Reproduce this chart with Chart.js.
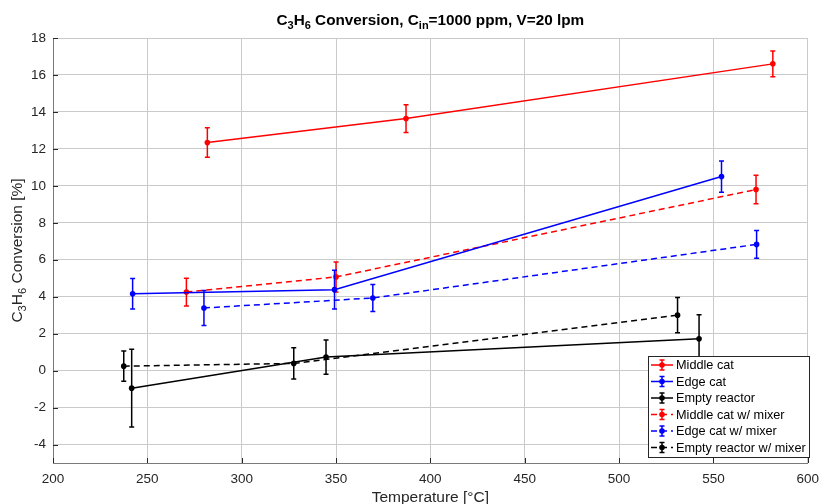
<!DOCTYPE html>
<html><head><meta charset="utf-8">
<script src="https://cdn.jsdelivr.net/npm/chart.js@4.4.0/dist/chart.umd.min.js"></script>
<style>html,body{margin:0;padding:0;background:#fff}#wrap{width:827px;height:504px}</style>
</head><body><div id="wrap"><canvas id="c" width="827" height="504"></canvas></div>
<script>
// ---- data ----
const seriesLabels = ['Middle cat','Edge cat','Empty reactor','Middle cat w/ mixer','Edge cat w/ mixer','Empty reactor w/ mixer'];
const middleX = [281.8, 387.1, 581.5];
const middleY = [12.34, 13.64, 16.6];
const middleErr = [0.8, 0.75, 0.7];
const edgeX = [242.2, 349.2, 554.3];
const edgeY = [4.16, 4.38, 10.5];
const edgeErr = [0.82, 1.05, 0.85];
const emptyX = [241.7, 344.7, 542.4];
const emptyY = [-0.95, 0.73, 1.72];
const emptyErr = [2.1, 0.93, 1.3];
const middleMixX = [270.7, 350.0, 572.6];
const middleMixY = [4.25, 5.07, 9.8];
const middleMixErr = [0.75, 0.81, 0.77];
const edgeMixX = [280.0, 369.5, 572.9];
const edgeMixY = [3.39, 3.93, 6.83];
const edgeMixErr = [0.95, 0.73, 0.75];
const emptyMixX = [237.5, 327.6, 531.0];
const emptyMixY = [0.24, 0.39, 3.0];
const emptyMixErr = [0.82, 0.85, 0.95];
const xTicks = [200, 250, 300, 350, 400, 450, 500, 550, 600];
const yTicks = [-4, -2, 0, 2, 4, 6, 8, 10, 12, 14, 16, 18];

const FONT = '"Liberation Sans", Arial, Helvetica, sans-serif';
const TXT = '#262626';

function mk(label, xs, ys, errs, color, dashed) {
  return {
    label, data: xs.map((x, i) => ({x, y: ys[i]})), errors: errs,
    borderColor: color, backgroundColor: color, borderWidth: 1.5,
    borderDash: dashed ? [6, 4] : [], pointRadius: 2.8, pointBorderWidth: 0,
    pointBackgroundColor: color, pointHoverRadius: 2.8, fill: false, tension: 0
  };
}
const datasets = [
  mk(seriesLabels[0], middleX, middleY, middleErr, '#ff0000', false),
  mk(seriesLabels[1], edgeX, edgeY, edgeErr, '#0000ff', false),
  mk(seriesLabels[2], emptyX, emptyY, emptyErr, '#000000', false),
  mk(seriesLabels[3], middleMixX, middleMixY, middleMixErr, '#ff0000', true),
  mk(seriesLabels[4], edgeMixX, edgeMixY, edgeMixErr, '#0000ff', true),
  mk(seriesLabels[5], emptyMixX, emptyMixY, emptyMixErr, '#000000', true)
];

function drawErr(ctx, cx, yTop, yBot, color, cap) {
  ctx.save();
  ctx.strokeStyle = color; ctx.lineWidth = 1.5; ctx.setLineDash([]);
  ctx.beginPath();
  ctx.moveTo(cx, yTop); ctx.lineTo(cx, yBot);
  ctx.moveTo(cx - cap, yTop); ctx.lineTo(cx + cap, yTop);
  ctx.moveTo(cx - cap, yBot); ctx.lineTo(cx + cap, yBot);
  ctx.stroke();
  ctx.restore();
}

// rich text with subscripts
function drawRich(ctx, parts, x, y, size, bold, align) {
  const f = (s) => (bold ? 'bold ' : '') + s + 'px ' + FONT;
  let w = 0;
  parts.forEach(p => { ctx.font = f(p.sub ? size * 0.72 : size); w += ctx.measureText(p.t).width; });
  let sx = align === 'center' ? x - w / 2 : x;
  ctx.textBaseline = 'alphabetic'; ctx.textAlign = 'left';
  parts.forEach(p => {
    ctx.font = f(p.sub ? size * 0.72 : size);
    ctx.fillText(p.t, sx, y + (p.sub ? size * 0.28 : 0));
    sx += ctx.measureText(p.t).width;
  });
}

const errorBars = {
  id: 'errorBars',
  afterDatasetDraw(chart, args) {
    const ds = chart.data.datasets[args.index];
    const ys = chart.scales.y, xs = chart.scales.x;
    const ctx = chart.ctx;
    ds.data.forEach((p, i) => {
      const cx = xs.getPixelForValue(p.x);
      drawErr(ctx, cx, ys.getPixelForValue(p.y + ds.errors[i]), ys.getPixelForValue(p.y - ds.errors[i]), ds.borderColor, 2.5);
    });
  }
};

const decor = {
  id: 'decor',
  afterDraw(chart) {
    const ctx = chart.ctx, a = chart.chartArea;
    const xs = chart.scales.x, ys = chart.scales.y;
    // inward ticks
    ctx.save();
    ctx.strokeStyle = TXT; ctx.lineWidth = 1;
    ctx.beginPath();
    yTicks.forEach(v => { const py = Math.round(ys.getPixelForValue(v)) + 0.5; ctx.moveTo(a.left, py); ctx.lineTo(a.left + 5, py); });
    xTicks.forEach(v => { const px = Math.round(xs.getPixelForValue(v)) + 0.5; ctx.moveTo(px, a.bottom); ctx.lineTo(px, a.bottom - 5); });
    ctx.stroke();
    ctx.restore();
    // title
    ctx.save();
    ctx.fillStyle = '#000';
    drawRich(ctx, [{t:'C'},{t:'3',sub:true},{t:'H'},{t:'6',sub:true},{t:' Conversion, C'},{t:'in',sub:true},{t:'=1000 ppm, V=20 lpm'}],
      (a.left + a.right) / 2, 25, 15.3, true, 'center');
    // x title
    ctx.fillStyle = TXT;
    ctx.font = '15.5px ' + FONT; ctx.textAlign = 'center'; ctx.textBaseline = 'alphabetic';
    ctx.fillText('Temperature [°C]', (a.left + a.right) / 2, 502);
    // y title
    ctx.translate(22, (a.top + a.bottom) / 2);
    ctx.rotate(-Math.PI / 2);
    drawRich(ctx, [{t:'C'},{t:'3',sub:true},{t:'H'},{t:'6',sub:true},{t:' Conversion [%]'}], 0, 0, 15.5, false, 'center');
    ctx.restore();
    // legend
    ctx.save();
    const lx = 648.5, ly = 356.5, lw = 161, lh = 101;
    ctx.fillStyle = '#fff'; ctx.fillRect(lx, ly, lw, lh);
    ctx.strokeStyle = '#262626'; ctx.lineWidth = 1; ctx.strokeRect(lx, ly, lw, lh);
    chart.data.datasets.forEach((ds, i) => {
      const ry = ly + 8.5 + i * 16.5;
      ctx.strokeStyle = ds.borderColor; ctx.lineWidth = 1.5;
      ctx.setLineDash(ds.borderDash);
      ctx.beginPath(); ctx.moveTo(651, ry); ctx.lineTo(673, ry); ctx.stroke();
      ctx.setLineDash([]);
      drawErr(ctx, 662, ry - 5, ry + 5, ds.borderColor, 2.5);
      ctx.fillStyle = ds.borderColor;
      ctx.beginPath(); ctx.arc(662, ry, 2.8, 0, Math.PI * 2); ctx.fill();
      ctx.fillStyle = '#000'; ctx.font = '12.7px ' + FONT; ctx.textAlign = 'left'; ctx.textBaseline = 'middle';
      ctx.fillText(ds.label, 676, ry + 0.5);
    });
    ctx.restore();
  }
};

new Chart(document.getElementById('c'), {
  type: 'line',
  data: { datasets },
  options: {
    responsive: false, animation: false, devicePixelRatio: 1,
    layout: { padding: { top: 38, right: 12, left: 0, bottom: 0 } },
    plugins: { legend: { display: false }, title: { display: false }, tooltip: { enabled: false } },
    scales: {
      x: {
        type: 'linear', min: 200, max: 600,
        afterBuildTicks: s => { s.ticks = xTicks.map(v => ({ value: v })); },
        afterFit: s => { s.height = 41; },
        grid: { color: '#cacaca', drawTicks: false, lineWidth: 1 },
        border: { display: true, color: '#7a7a7a', width: 1 },
        ticks: { color: TXT, font: { family: FONT, size: 13.5 }, padding: 8, maxRotation: 0 }
      },
      y: {
        type: 'linear', min: -5, max: 18,
        afterBuildTicks: s => { s.ticks = yTicks.map(v => ({ value: v })); },
        afterFit: s => { s.width = 53; },
        grid: { color: '#cacaca', drawTicks: false, lineWidth: 1 },
        border: { display: true, color: '#7a7a7a', width: 1 },
        ticks: { color: TXT, font: { family: FONT, size: 13.5 }, padding: 7 }
      }
    }
  },
  plugins: [errorBars, decor]
});
</script></body></html>
